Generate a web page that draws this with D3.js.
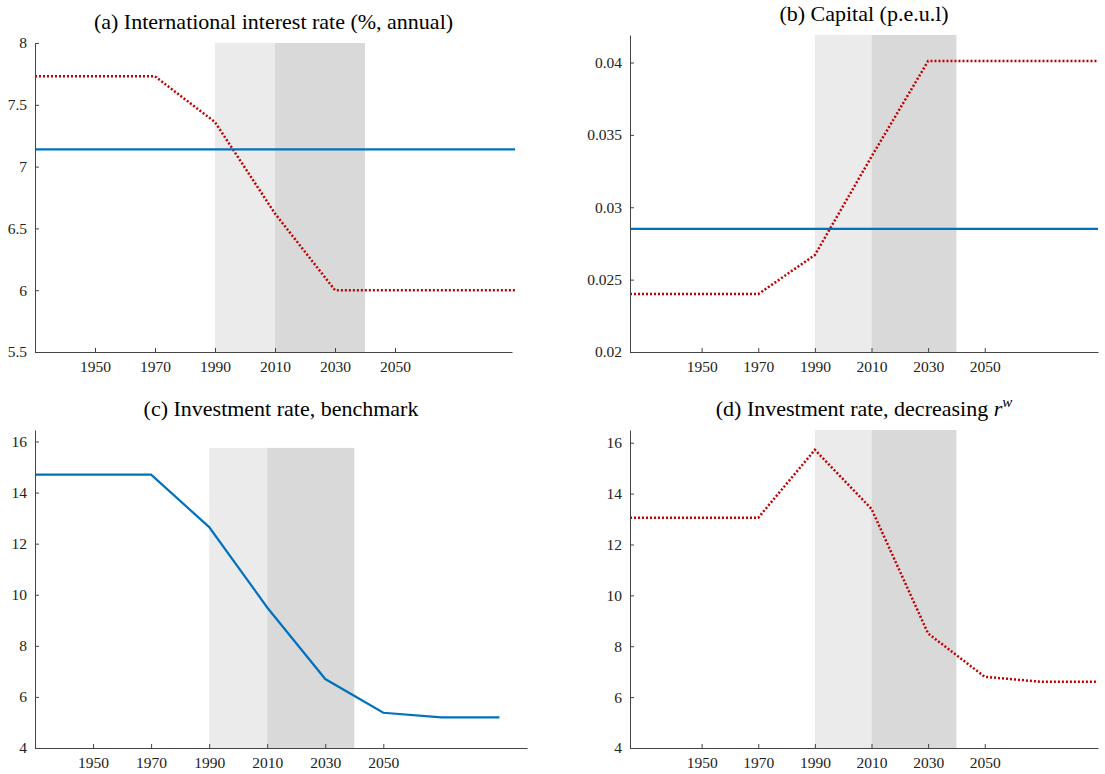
<!DOCTYPE html>
<html><head><meta charset="utf-8">
<script src="https://cdn.jsdelivr.net/npm/d3@7"></script>
<style>body{margin:0;background:#fff}text{font-family:"Liberation Serif",serif}</style>
</head><body><svg width="1105" height="774"></svg>
<script>
var years = [1930, 1950, 1970, 1990, 2010, 2030, 2050, 2070, 2090];
var tickYears = [1950, 1970, 1990, 2010, 2030, 2050];
var rateDecr = [7.73, 7.73, 7.73, 7.36, 6.62, 6.0, 6.0, 6.0, 6.0];
var rateBench = [7.14, 7.14, 7.14, 7.14, 7.14, 7.14, 7.14, 7.14, 7.14];
var capDecr = [0.024, 0.024, 0.024, 0.0267, 0.0335, 0.0401, 0.0401, 0.0401, 0.0401];
var capBench = [0.0285, 0.0285, 0.0285, 0.0285, 0.0285, 0.0285, 0.0285, 0.0285, 0.0285];
var invBench = [14.7, 14.7, 14.7, 12.65, 9.5, 6.7, 5.38, 5.2, 5.2];
var invDecr = [13.05, 13.05, 13.05, 15.72, 13.4, 8.5, 6.8, 6.6, 6.6];

var svg = d3.select("svg");
var panels = [
  {title: "(a) International interest rate (%, annual)", x0: 35, x1: 512, xd: [1930, 2089], y0: 43, y1: 352, dom: [5.5, 8], ticks: [5.5,6,6.5,7,7.5,8], shadeTop: 8,
   series: [{v: rateDecr, red: true}, {v: rateBench}]},
  {title: "(b) Capital (p.e.u.l)", x0: 630, x1: 1098, xd: [1924.7, 2090], y0: 35, y1: 352, dom: [0.02, 0.0419], ticks: [0.02,0.025,0.03,0.035,0.04], shadeTop: 0.0419,
   series: [{v: capDecr, red: true}, {v: capBench}]},
  {title: "(c) Investment rate, benchmark", x0: 35, x1: 527, xd: [1930, 2099.5], y0: 430, y1: 748, dom: [4, 16.45], ticks: [4,6,8,10,12,14,16], shadeTop: 15.75,
   series: [{v: invBench}]},
  {title: "(d) Investment rate, decreasing ", sup: true, x0: 630, x1: 1098, xd: [1924.7, 2090], y0: 430, y1: 748, dom: [4, 16.5], ticks: [4,6,8,10,12,14,16], shadeTop: 16.5,
   series: [{v: invDecr, red: true}]}
];

panels.forEach(function (p) {
  var x = d3.scaleLinear().domain(p.xd).range([p.x0, p.x1]);
  var y = d3.scaleLinear().domain(p.dom).range([p.y1, p.y0]);
  var g = svg.append("g");
  g.append("rect").attr("x", x(1990)).attr("width", x(2010) - x(1990))
    .attr("y", y(p.shadeTop)).attr("height", p.y1 - y(p.shadeTop)).attr("fill", "#ebebeb");
  g.append("rect").attr("x", x(2010)).attr("width", x(2040) - x(2010))
    .attr("y", y(p.shadeTop)).attr("height", p.y1 - y(p.shadeTop)).attr("fill", "#d9d9d9");
  // first point is drawn from the left edge of the axis
  var line = d3.line().x(function (d, i) { return i === 0 ? p.x0 : x(years[i]); }).y(function (d) { return y(d); });
  p.series.forEach(function (s) {
    g.append("path").datum(s.v).attr("d", line).attr("fill", "none")
      .attr("stroke", s.red ? "#c00000" : "#0072bd").attr("stroke-width", s.red ? 2.5 : 2.2)
      .attr("stroke-dasharray", s.red ? "2,2" : null);
  });
  var xa = g.append("g").attr("transform", "translate(0," + p.y1 + ")")
    .call(d3.axisBottom(x).tickValues(tickYears).tickFormat(d3.format("d")).tickSize(-4).tickPadding(9).tickSizeOuter(0));
  var ya = g.append("g").attr("transform", "translate(" + p.x0 + ",0)")
    .call(d3.axisLeft(y).tickValues(p.ticks).tickFormat(d3.format("")).tickSize(-4).tickPadding(8).tickSizeOuter(0));
  [xa, ya].forEach(function (a) {
    a.selectAll("text").attr("font-size", 15.5).attr("fill", "#222");
    a.selectAll("line,path").attr("stroke", "#444");
  });
  var t = g.append("text").attr("x", (p.x0 + p.x1) / 2).attr("y", p.y0 - 14)
    .attr("text-anchor", "middle").attr("font-size", 22).attr("fill", "#000").text(p.title);
  if (p.sup) {
    t.append("tspan").attr("font-style", "italic").text("r");
    t.append("tspan").attr("font-style", "italic").attr("font-size", 15).attr("dy", -9).text("w");
  }
});
</script></body></html>
